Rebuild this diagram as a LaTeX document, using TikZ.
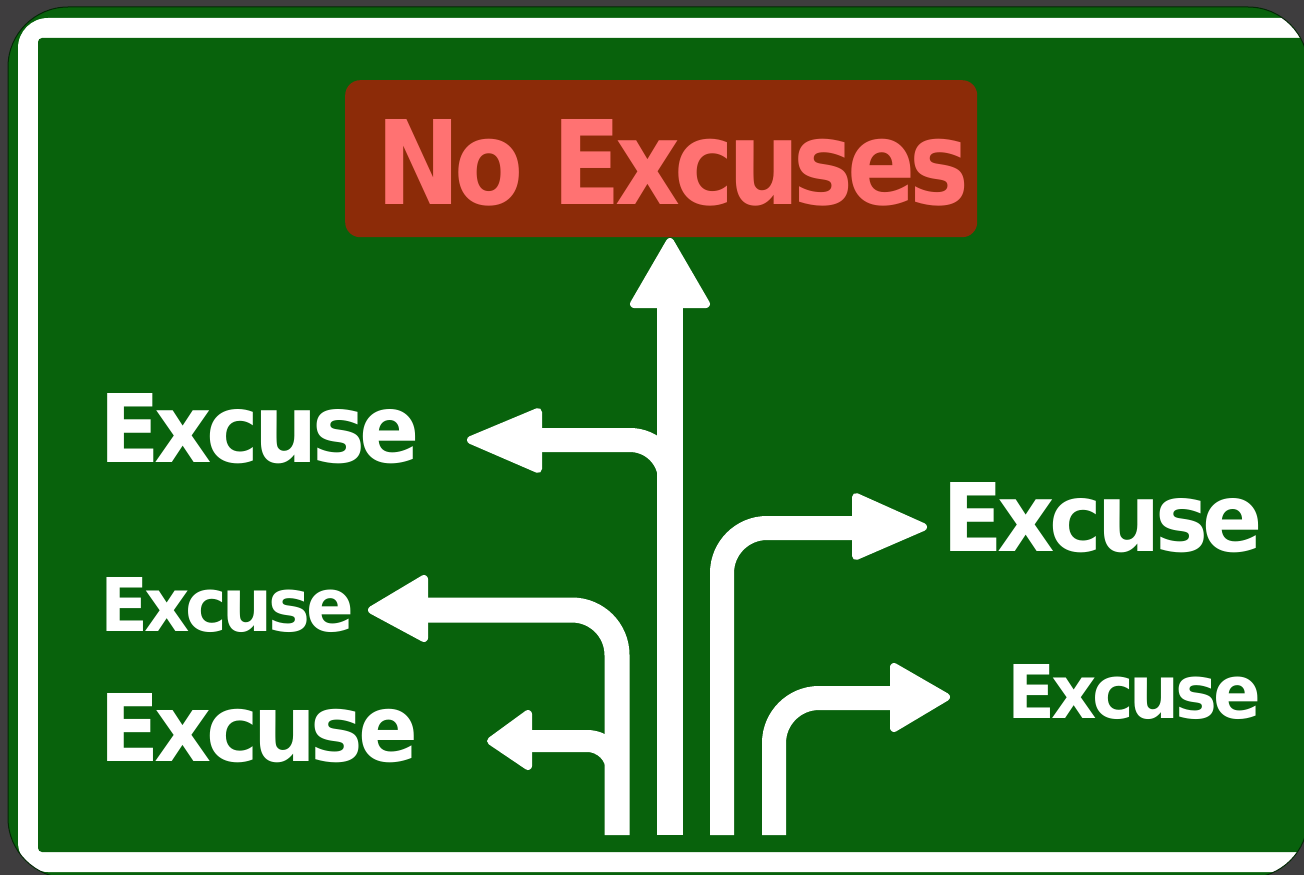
\documentclass[tikz,border=0pt]{standalone}
\usepackage{fontspec}
\setmainfont{DejaVu Sans}
\newfontfamily\signfont{DejaVu Sans}[LetterSpace=-6]
\usepackage{graphicx}
\definecolor{bggrey}{RGB}{62,61,62}
\definecolor{signgreen}{RGB}{8,98,12}
\definecolor{boxred}{RGB}{140,43,8}
\definecolor{titlepink}{RGB}{255,114,114}
\tikzset{
  shaft/.style={draw=white, line width=24pt, line cap=butt, line join=round},
  arrowhead/.style={fill=white, draw=white, line width=8pt, line join=round},
  signtext/.style={anchor=base west, inner sep=0pt, text=white},
}
\begin{document}
\begin{tikzpicture}[x=1pt,y=-1pt]
\useasboundingbox (0,0) rectangle (1304,875);
\clip (0,0) rectangle (1304,875);
\fill[bggrey] (0,0) rectangle (1304,875);
% sign board
\begin{scope}
\path[clip, rounded corners=60pt] (8,7) rectangle (1308,878);
\fill[signgreen] (0,0) rectangle (1304,875);
\fill[white, rounded corners=30pt] (18,18) rectangle (1340,872);
\fill[signgreen, rounded corners=4pt] (38,38) rectangle (1330,852);
\end{scope}
\draw[black!60!signgreen, line width=1pt, rounded corners=60pt] (8,7) rectangle (1308,878);

% title box
\node[fill=boxred, rounded corners=15pt, minimum width=632pt, minimum height=157pt,
      anchor=north west, inner sep=0pt] (box) at (345,80) {};
\node[anchor=base west, inner sep=0pt, text=titlepink] (title) at (376,204)
  {\resizebox{593pt}{85pt}{\signfont\bfseries No Excuses}};

% coordinates
\coordinate (m0) at (670,835);  \coordinate (m1) at (670,300);
\coordinate (a1s) at (670,520); \coordinate (a1c) at (670,440); \coordinate (a1e) at (536,440);
\coordinate (a2s) at (617,835); \coordinate (a2c) at (617,610); \coordinate (a2e) at (422,610);
\coordinate (a3s) at (617,800); \coordinate (a3c) at (617,741); \coordinate (a3e) at (527,741);
\coordinate (a4s) at (722,835); \coordinate (a4c) at (722,528); \coordinate (a4e) at (858,528);
\coordinate (a5s) at (774,835); \coordinate (a5c) at (774,698); \coordinate (a5e) at (896,698);

% shafts
\draw[shaft, line width=26pt] (m0) -- (m1);
\draw[shaft, rounded corners=40pt] (a1s) -- (a1c) -- (a1e);
\draw[shaft, line width=25pt, rounded corners=45pt] (a2s) -- (a2c) -- (a2e);
\draw[shaft, line width=22pt, rounded corners=30pt] (a3s) -- (a3c) -- (a3e);
\draw[shaft, rounded corners=45pt] (a4s) -- (a4c) -- (a4e);
\draw[shaft, rounded corners=45pt] (a5s) -- (a5c) -- (a5e);

% heads
\filldraw[arrowhead] (670,242) -- (634,304) -- (706,304) -- cycle;
\filldraw[arrowhead] (471,440) -- (538,412) -- (538,469) -- cycle;
\filldraw[arrowhead] (372,610) -- (424,579) -- (424,638) -- cycle;
\filldraw[arrowhead] (491,741) -- (528,714) -- (528,766) -- cycle;
\filldraw[arrowhead] (923,527) -- (856,497) -- (856,556) -- cycle;
\filldraw[arrowhead] (946,697) -- (894,667) -- (894,728) -- cycle;

% labels
\node[signtext] (e1) at (99,462)   {\resizebox{321pt}{69pt}{\signfont\bfseries Excuse}};
\node[signtext] (e2) at (100,631)  {\resizebox{254pt}{54pt}{\signfont\bfseries Excuse}};
\node[signtext] (e3) at (99,761)   {\resizebox{319pt}{68pt}{\signfont\bfseries Excuse}};
\node[signtext] (e4) at (942,551)  {\resizebox{321pt}{69pt}{\signfont\bfseries Excuse}};
\node[signtext] (e5) at (1007,718) {\resizebox{254pt}{54pt}{\signfont\bfseries Excuse}};
\end{tikzpicture}
\end{document}
